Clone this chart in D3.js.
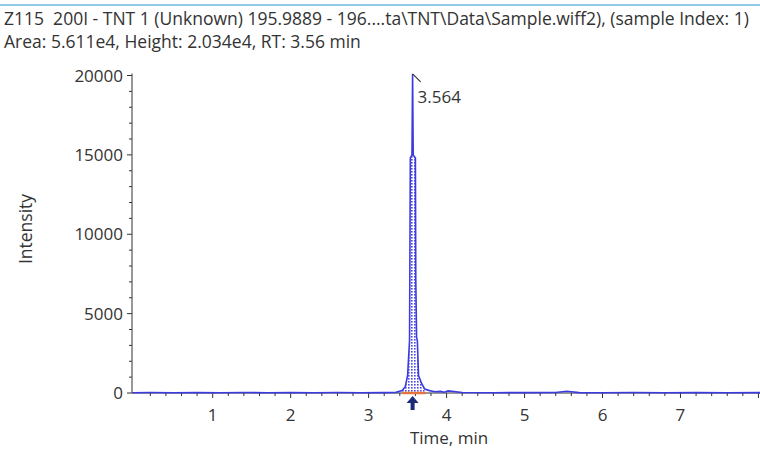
<!DOCTYPE html>
<head>
  <meta charset="utf-8">
  <title>TNT XIC</title>
  <style>
    body { margin: 0; background: #fff; }
    text { font-family: "Open Sans", sans-serif; fill: #333; }
  </style>
</head>
<body>
  <script src="https://cdn.jsdelivr.net/npm/d3@7/dist/d3.min.js"></script>
  <script>
    // chart data
    var titleLines = [
      "Z115  200I - TNT 1 (Unknown) 195.9889 - 196....ta\\TNT\\Data\\Sample.wiff2), (sample Index: 1)",
      "Area: 5.611e4, Height: 2.034e4, RT: 3.56 min"
    ];
    var times = [-0.03, 0.2, 0.5, 0.8, 1.1, 1.4, 1.7, 2.0, 2.3, 2.6, 2.9, 3.2, 3.35,
                 3.43, 3.47, 3.50, 3.525, 3.535, 3.556, 3.564, 3.572, 3.60, 3.605, 3.615, 3.625,
                 3.64, 3.68, 3.72, 3.78, 3.85, 3.92, 3.97, 4.02, 4.2, 4.6, 5.0, 5.4, 5.54,
                 5.7, 6.0, 6.4, 6.8, 7.2, 7.6, 8.02];
    var intensity = [20, 30, 15, 25, 20, 30, 20, 25, 15, 30, 20, 25, 40,
                     150, 400, 1100, 3300, 14800, 15000, 20100, 15000, 14800, 7100, 3500, 3300,
                     1100, 600, 250, 150, 80, 100, 50, 130, 30, 20, 25, 30, 110,
                     25, 20, 30, 20, 25, 20, 25];
    var peakRT = 3.564, peakLabel = "3.564";
    var integStart = 3.43, integEnd = 3.73;
    var yTicks = [0, 5000, 10000, 15000, 20000];
    var xTicks = [1, 2, 3, 4, 5, 6, 7];

    var w = 760, h = 450;
    var pLeft = 132, pRight = 760, pTop = 75.5, pBottom = 393;

    var x = d3.scaleLinear().domain([-0.035, 8.02]).range([pLeft, pRight]);
    var y = d3.scaleLinear().domain([0, 20000]).range([pBottom, pTop]);

    var svg = d3.select("body").append("svg").attr("width", w).attr("height", h);

    // hatch pattern for the integrated area
    var pat = svg.append("defs").append("pattern")
      .attr("id", "dots").attr("width", 3).attr("height", 3)
      .attr("patternUnits", "userSpaceOnUse");
    pat.append("rect").attr("width", 3).attr("height", 3).attr("fill", "#ffffff");
    pat.append("rect").attr("width", 1.6).attr("height", 1.6).attr("fill", "#4a4ae0");

    // top border line
    svg.append("line").attr("x1", 0).attr("x2", w).attr("y1", 5).attr("y2", 5)
      .attr("stroke", "#8fcbe6").attr("stroke-width", 2);

    // title lines
    svg.selectAll(".title").data(titleLines).enter().append("text")
      .attr("class", "title")
      .attr("x", 4)
      .attr("y", function(d, i) { return 25 + i * 23; })
      .style("font-size", "17.5px")
      .style("white-space", "pre")
      .text(function(d) { return d; });

    // axes
    var yAxis = svg.append("g").attr("transform", "translate(" + pLeft + ",0)");
    yAxis.append("line").attr("y1", pTop - 2).attr("y2", pBottom).attr("stroke", "#333");
    yAxis.selectAll(".minor").data(d3.range(0, 20001, 1000)).enter().append("line")
      .attr("x1", function(d) { return d % 5000 === 0 ? -5 : -3; }).attr("x2", 0)
      .attr("y1", function(d) { return y(d); }).attr("y2", function(d) { return y(d); })
      .attr("stroke", "#333");
    yAxis.selectAll(".lab").data(yTicks).enter().append("text")
      .attr("x", -9).attr("y", function(d) { return y(d); })
      .attr("dy", "0.36em").attr("text-anchor", "end")
      .style("font-size", "17px")
      .text(function(d) { return d; });

    var xAxis = svg.append("g").attr("transform", "translate(0," + pBottom + ")");
    xAxis.append("line").attr("x1", pLeft).attr("x2", pRight).attr("stroke", "#333");
    xAxis.selectAll(".minor").data(d3.range(1, 41).map(function(i) { return i / 5; })).enter().append("line")
      .attr("x1", function(d) { return x(d); }).attr("x2", function(d) { return x(d); })
      .attr("y1", 0).attr("y2", function(d) { return Math.abs(d - Math.round(d)) < 1e-6 ? 5 : 3; })
      .attr("stroke", "#333");
    xAxis.selectAll(".lab").data(xTicks).enter().append("text")
      .attr("x", function(d) { return x(d); }).attr("y", 28)
      .attr("text-anchor", "middle")
      .style("font-size", "17px")
      .text(function(d) { return d; });

    // axis titles
    svg.append("text").attr("x", 449).attr("y", 444).attr("text-anchor", "middle")
      .style("font-size", "17px").text("Time, min");
    svg.append("text").attr("transform", "translate(32,229) rotate(-90)")
      .attr("text-anchor", "middle").style("font-size", "17.5px").text("Intensity");

    var pts = times.map(function(t, i) { return [t, intensity[i]]; });

    // integrated area
    var inPeak = pts.filter(function(d) { return d[0] >= integStart && d[0] <= integEnd; });
    svg.append("path").datum(inPeak)
      .attr("d", d3.area().x(function(d) { return x(d[0]); }).y0(y(0)).y1(function(d) { return y(d[1]); }))
      .attr("fill", "url(#dots)");

    // baseline of integration
    svg.append("line").attr("x1", x(integStart)).attr("x2", x(integEnd))
      .attr("y1", pBottom).attr("y2", pBottom).attr("stroke", "#e8743b").attr("stroke-width", 2.5);

    // trace
    svg.append("path").datum(pts)
      .attr("d", d3.line().x(function(d) { return x(d[0]); }).y(function(d) { return y(d[1]); }))
      .attr("fill", "none").attr("stroke", "#3b3be0").attr("stroke-width", 1.6);

    // peak annotation
    var px = x(peakRT), py = y(20100);
    svg.append("line").attr("x1", px).attr("y1", py).attr("x2", px + 8).attr("y2", py + 8)
      .attr("stroke", "#333").attr("stroke-width", 1.2);
    svg.append("text").attr("x", px + 5).attr("y", py + 29)
      .style("font-size", "17px").text(peakLabel);

    // RT arrow
    svg.append("path")
      .attr("d", "M" + px + "," + (pBottom + 3) + " l-6,7 l4,0 l0,7 l4,0 l0,-7 l4,0 z")
      .attr("fill", "#1c2a78");
  </script>
</body>
